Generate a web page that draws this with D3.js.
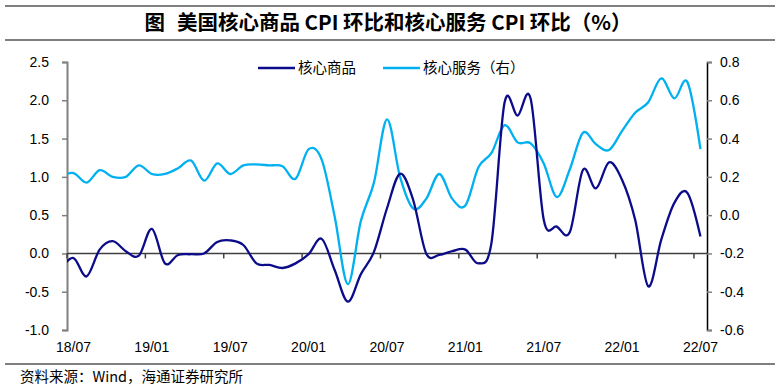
<!DOCTYPE html>
<html>
<head>
<meta charset="utf-8">
<script src="https://cdn.jsdelivr.net/npm/d3@7"></script>
<style>
  body { margin: 0; background: #fff; }
  svg { display: block; }
</style>
</head>
<body>
<svg id="chart" width="780" height="387"></svg>
<script>
// 月份：18/06 起（首点被绘图区裁掉），至 22/07
var months = d3.timeMonths(new Date(2018, 5, 1), new Date(2022, 7, 1));

// 核心商品 CPI 环比（左轴，%）
var goods = [-0.20, -0.06, -0.30, 0.05, 0.16, 0.03, -0.03, 0.32, -0.13, -0.02,
             -0.01, 0.00, 0.15, 0.17, 0.11, -0.13, -0.15, -0.19, -0.13, -0.01,
             0.19, -0.22, -0.63, -0.27, 0.02, 0.59, 1.04, 0.70, 0.00, -0.02,
             0.03, 0.05, -0.13, 0.14, 1.97, 1.80, 2.02, 0.44, 0.35, 0.28,
             1.09, 0.85, 1.19, 0.96, 0.44, -0.43, 0.18, 0.66, 0.79, 0.22];

// 核心服务 CPI 环比（右轴，%）
var services = [0.20, 0.22, 0.17, 0.235, 0.20, 0.20, 0.26, 0.215, 0.215, 0.245,
                0.285, 0.18, 0.27, 0.215, 0.26, 0.265, 0.26, 0.255, 0.19, 0.345,
                0.29, -0.01, -0.36, -0.03, 0.17, 0.50, 0.20, 0.035, 0.085, 0.215,
                0.085, 0.05, 0.25, 0.325, 0.47, 0.38, 0.375, 0.27, 0.095, 0.24,
                0.43, 0.37, 0.34, 0.44, 0.535, 0.59, 0.715, 0.61, 0.695, 0.345];

var leftTicks = [-1.0, -0.5, 0.0, 0.5, 1.0, 1.5, 2.0, 2.5];
var rightTicks = [-0.6, -0.4, -0.2, 0.0, 0.2, 0.4, 0.6, 0.8];
var xLabels = ["18/07", "19/01", "19/07", "20/01", "20/07", "21/01", "21/07", "22/01", "22/07"];

var svg = d3.select('#chart');
var L = 67, R = 707, T = 62, B = 330;
var cjk = '"Noto Sans CJK SC", sans-serif';
var latin = '"Liberation Sans", Arial, sans-serif';

// 下标：0 = 18/06，1 = 18/07 ...
var x = d3.scaleLinear().domain([0.5, 49.5]).range([L, R]);
var yL = d3.scaleLinear().domain([-1, 2.5]).range([B, T]);
var yR = d3.scaleLinear().domain([-0.6, 0.8]).range([B, T]);

// 标题
svg.append('line').attr('x1', 5).attr('x2', 775).attr('y1', 6).attr('y2', 6)
	.attr('stroke', '#000').attr('stroke-width', 1.2);
svg.append('line').attr('x1', 5).attr('x2', 775).attr('y1', 40).attr('y2', 40)
	.attr('stroke', '#000').attr('stroke-width', 1.2);
var title = svg.append('text').attr('x', 388).attr('y', 30)
	.attr('text-anchor', 'middle')
	.style('font-family', cjk).style('font-weight', 'bold').style('font-size', '20.5px');
title.append('tspan').text('图');
title.append('tspan').attr('dx', 12).text('美国核心商品 CPI 环比和核心服务 CPI 环比（%）');

// 来源
svg.append('line').attr('x1', 5).attr('x2', 775).attr('y1', 364).attr('y2', 364)
	.attr('stroke', '#000').attr('stroke-width', 1.2);
svg.append('text').attr('x', 20).attr('y', 382)
	.style('font-family', cjk).style('font-size', '14.5px')
	.text('资料来源：Wind，海通证券研究所');

// 左轴
var gL = svg.append('g').attr('transform', 'translate(' + L + ',0)')
	.call(d3.axisLeft(yL).tickValues(leftTicks).tickSize(5).tickPadding(13)
		.tickFormat(function(d){ return d.toFixed(1); }));
gL.select('.domain').attr('stroke', '#808080').attr('stroke-width', 2);
gL.selectAll('.tick line').attr('stroke', '#808080').attr('stroke-width', 1.5);
gL.selectAll('text').style('font-family', latin).style('font-size', '14px').attr('fill', '#000');

// 右轴
var gR = svg.append('g').attr('transform', 'translate(' + R + ',0)')
	.call(d3.axisRight(yR).tickValues(rightTicks).tickSize(5).tickPadding(8)
		.tickFormat(function(d){ return d.toFixed(1); }));
gR.select('.domain').attr('stroke', '#000').attr('stroke-width', 1.5);
gR.selectAll('.tick line').attr('stroke', '#808080').attr('stroke-width', 1.5);
gR.selectAll('text').style('font-family', latin).style('font-size', '14px').attr('fill', '#000');

// 横轴（零线）
var y0 = yL(0);
svg.append('line').attr('x1', L).attr('x2', R).attr('y1', y0).attr('y2', y0)
	.attr('stroke', '#404040').attr('stroke-width', 1.5);
var tickIdx = d3.range(0, 9).map(function(k){ return 1 + 6 * k; });
svg.selectAll('.xtick').data(tickIdx).enter().append('line')
	.attr('class', 'xtick')
	.attr('x1', function(d){ return x(d - 0.5); })
	.attr('x2', function(d){ return x(d - 0.5); })
	.attr('y1', y0).attr('y2', y0 + 5)
	.attr('stroke', '#404040').attr('stroke-width', 1.5);
svg.selectAll('.xlab').data(tickIdx).enter().append('text')
	.attr('class', 'xlab')
	.attr('x', function(d){ return x(d); })
	.attr('y', 352)
	.attr('text-anchor', 'middle')
	.style('font-family', latin).style('font-size', '14px')
	.text(function(d, i){ return xLabels[i]; });

// 曲线
svg.append('clipPath').attr('id', 'clip').append('rect')
	.attr('x', L).attr('y', 0).attr('width', R - L).attr('height', 387);

var lineL = d3.line().x(function(d, i){ return x(i); }).y(function(d){ return yL(d); })
	.curve(d3.curveCardinal.tension(0));
var lineR = d3.line().x(function(d, i){ return x(i); }).y(function(d){ return yR(d); })
	.curve(d3.curveCardinal.tension(0));

svg.append('path').datum(services).attr('d', lineR)
	.attr('clip-path', 'url(#clip)')
	.attr('fill', 'none').attr('stroke', '#00B0F0').attr('stroke-width', 2.3);
svg.append('path').datum(goods).attr('d', lineL)
	.attr('clip-path', 'url(#clip)')
	.attr('fill', 'none').attr('stroke', '#0C0C8A').attr('stroke-width', 2.3);

// 图例
var legend = [
	{name: '核心商品', color: '#0C0C8A', x: 258},
	{name: '核心服务（右）', color: '#00B0F0', x: 383}
];
var lg = svg.selectAll('.lg').data(legend).enter().append('g').attr('class', 'lg');
lg.append('line')
	.attr('x1', function(d){ return d.x; }).attr('x2', function(d){ return d.x + 37; })
	.attr('y1', 68).attr('y2', 68)
	.attr('stroke', function(d){ return d.color; }).attr('stroke-width', 2.3);
lg.append('text')
	.attr('x', function(d){ return d.x + 40; }).attr('y', 73)
	.style('font-family', cjk).style('font-size', '14.5px')
	.text(function(d){ return d.name; });
</script>
</body>
</html>
